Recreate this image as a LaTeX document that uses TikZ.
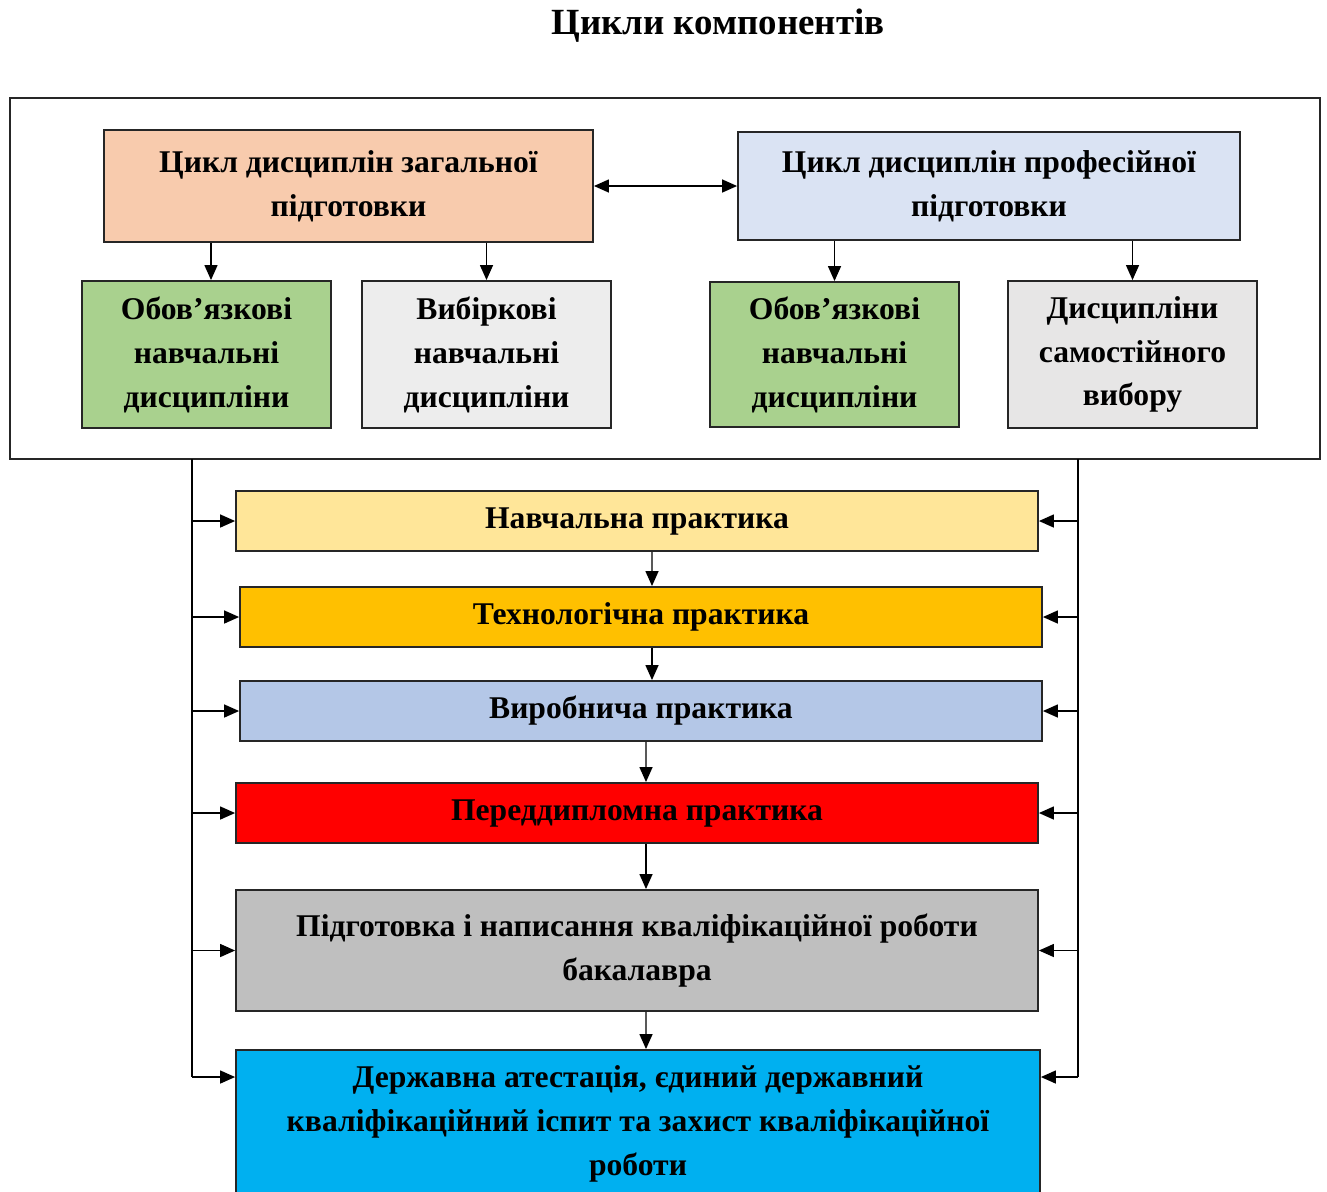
\documentclass[tikz,border=0pt]{standalone}
\usepackage{fontspec}
\setmainfont{Liberation Serif}
\usepackage{xcolor}
\definecolor{ColGen}{HTML}{F8CBAD}
\definecolor{ColProf}{HTML}{DAE3F3}
\definecolor{ColObl}{HTML}{A9D18E}
\definecolor{ColVyb}{HTML}{EDEDED}
\definecolor{ColSam}{HTML}{E7E6E6}
\definecolor{ColP1}{HTML}{FFE699}
\definecolor{ColP2}{HTML}{FFC000}
\definecolor{ColP3}{HTML}{B4C7E7}
\definecolor{ColP4}{HTML}{FF0000}
\definecolor{ColP5}{HTML}{BFBFBF}
\definecolor{ColP6}{HTML}{00B0F0}
\usepackage{tikz}
\usetikzlibrary{arrows.meta}
\tikzstyle{Box}=[draw=black!85,line width=1.1pt,inner sep=0pt,align=center,
font=\fontsize{18}{25}\selectfont\bfseries]
\tikzstyle{Small}=[Box,minimum width=4.98cm,minimum height=2.94cm]
\tikzstyle{Wide}=[Box,minimum width=16.04cm,minimum height=1.2cm]
\tikzstyle{Frame}=[draw=black!85,line width=1.1pt,inner sep=0pt]
\tikzstyle{Edge}=[draw=black,line width=0.8pt,-{Triangle[length=3mm,width=2.6mm]}]
\tikzstyle{Rail}=[draw=black,line width=0.8pt]
\tikzstyle{NodeT}=[font=\fontsize{21}{25}\selectfont\bfseries]

\begin{document}
\begin{tikzpicture}[x=0.02cm,y=-0.02cm]
    \useasboundingbox (0,0) rectangle (1327,1191);
    \clip (0,0) rectangle (1327,1191);
        \node[NodeT](title)at(718,26){Цикли компонентів};
        \node[Frame,minimum width=26.2cm,minimum height=7.22cm](frame)at(665,278.5){};
        % cycles
        \node[Box,fill=ColGen,minimum width=9.78cm,minimum height=2.24cm](gen)
            at(348.5,186){Цикл дисциплін загальної\\підготовки};
        \node[Box,fill=ColProf,minimum width=10.04cm,minimum height=2.16cm](prof)
            at(989,186){Цикл дисциплін професійної\\підготовки};
        \node[Small,fill=ColObl](genobl)at(206.5,354.5)
            {Обов’язкові\\навчальні\\дисципліни};
        \node[Small,fill=ColVyb](genvyb)at(486.5,354.5)
            {Вибіркові\\навчальні\\дисципліни};
        \node[Small,fill=ColObl,minimum height=2.9cm](profobl)at(834.5,354.5)
            {Обов’язкові\\навчальні\\дисципліни};
        \node[Small,fill=ColSam](profsam)at(1132.5,354.5)
            {Дисципліни\\самостійного\\вибору};
        \draw[Edge,{Triangle[length=3mm,width=2.6mm]}-{Triangle[length=3mm,width=2.6mm]}]
            (gen.east)--(prof.west);
        \draw[Edge]([xshift=0.09cm]gen.south-|genobl.north)--([xshift=0.09cm]genobl.north);
        \draw[Edge](gen.south-|genvyb.north)--(genvyb.north);
        \draw[Edge](prof.south-|profobl.north)--(profobl.north);
        \draw[Edge](prof.south-|profsam.north)--(profsam.north);
        % practices
        \node[Wide,fill=ColP1](p1)at(637,521){Навчальна практика};
        \node[Wide,fill=ColP2](p2)at(641,617){Технологічна практика};
        \node[Wide,fill=ColP3](p3)at(641,711){Виробнича практика};
        \node[Wide,fill=ColP4](p4)at(637,813){Переддипломна практика};
        \node[Wide,fill=ColP5,minimum height=2.42cm](p5)at(637,950.5)
            {Підготовка і написання кваліфікаційної роботи\\бакалавра};
        \node[Wide,fill=ColP6,minimum width=16.08cm,minimum height=2.96cm](p6)at(638,1124)
            {Державна атестація, єдиний державний\\кваліфікаційний іспит та захист кваліфікаційної\\роботи};
        \draw[Edge]([xshift=0.3cm]p1.south)--([xshift=0.22cm]p2.north);
        \draw[Edge]([xshift=0.22cm]p2.south)--([xshift=0.22cm]p3.north);
        \draw[Edge]([xshift=0.1cm]p3.south)--([xshift=0.18cm]p4.north);
        \draw[Edge]([xshift=0.18cm]p4.south)--([xshift=0.18cm]p5.north);
        \draw[Edge]([xshift=0.18cm]p5.south)--([xshift=0.16cm]p6.north);
        % rails
        \coordinate(L)at(192,459);
        \coordinate(R)at(1078,459);
        \coordinate(p6w)at(p6.west|-0,1077);
        \coordinate(p6e)at(p6.east|-0,1077);
        \draw[Rail](L)--(L|-p6w);
        \draw[Rail](R)--(R|-p6e);
        \foreach \p in {p1,p2,p3,p4,p5}
            \draw[Edge](L|-\p.west)--(\p.west);
        \foreach \p in {p1,p2,p3,p4,p5}
            \draw[Edge](R|-\p.east)--(\p.east);
        \draw[Edge](L|-p6w)--(p6w);
        \draw[Edge](R|-p6e)--(p6e);
    \end{tikzpicture}
\end{document}
